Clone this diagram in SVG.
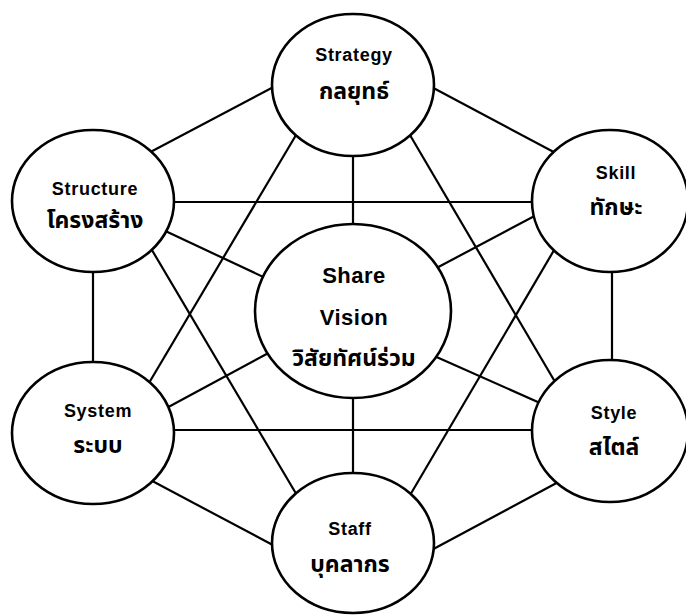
<svg xmlns="http://www.w3.org/2000/svg" width="686" height="615" viewBox="0 0 686 615">
<style>
.bg{fill:#fff}
.c line{stroke:#000;stroke-width:2.2;stroke-linecap:butt}
.n ellipse{fill:#fff;stroke:#000;stroke-width:2.6}
.en{font-family:"Liberation Sans",Arial,sans-serif;font-size:18px;font-weight:bold;text-anchor:middle;fill:#000;letter-spacing:0.7px}
.ens{font-family:"Liberation Sans",Arial,sans-serif;font-size:22px;font-weight:bold;text-anchor:middle;fill:#000;letter-spacing:0.5px}
.th{font-family:"Noto Sans Thai","Noto Sans Thai UI","Noto Sans","Liberation Sans",sans-serif;font-size:23px;font-weight:bold;text-anchor:middle;fill:#000}
</style>
<rect class="bg" x="0" y="0" width="686" height="615"/>
<g id="connectors" class="c">
<line x1="141" y1="157" x2="283" y2="82"/>
<line x1="424" y1="83" x2="565" y2="158"/>
<line x1="353" y1="150" x2="353" y2="232"/>
<line x1="353" y1="390" x2="353" y2="480"/>
<line x1="299" y1="130" x2="146" y2="388"/>
<line x1="407" y1="130" x2="561" y2="392"/>
<line x1="165" y1="202" x2="543" y2="202"/>
<line x1="93" y1="262" x2="93" y2="372"/>
<line x1="612" y1="262" x2="612" y2="370"/>
<line x1="159" y1="228" x2="274" y2="282"/>
<line x1="429" y1="272" x2="544" y2="211"/>
<line x1="276" y1="349" x2="161" y2="411"/>
<line x1="432" y1="355" x2="549" y2="407"/>
<line x1="165" y1="430" x2="543" y2="430"/>
<line x1="146" y1="240" x2="301" y2="502"/>
<line x1="560" y1="240" x2="406" y2="502"/>
<line x1="141" y1="475" x2="284" y2="551"/>
<line x1="564" y1="479" x2="426" y2="553"/>
</g>
<g id="strategy" class="n">
<ellipse cx="353" cy="85" rx="81" ry="71"/>
<text class="en" x="354" y="61">Strategy</text>
<text class="th" x="354" y="99">กลยุทธ์</text>
</g>
<g id="structure" class="n">
<ellipse cx="93" cy="201" rx="81" ry="71"/>
<text class="en" x="95" y="195">Structure</text>
<text class="th" x="95" y="228">โครงสร้าง</text>
</g>
<g id="skill" class="n">
<ellipse cx="610" cy="201" rx="78" ry="71"/>
<text class="en" x="616" y="179">Skill</text>
<text class="th" x="616" y="215">ทักษะ</text>
</g>
<g id="share-vision" class="n">
<ellipse cx="353" cy="311" rx="98" ry="87"/>
<text class="ens" x="354" y="283">Share</text>
<text class="ens" x="354" y="325">Vision</text>
<text class="th" x="354" y="366">วิสัยทัศน์ร่วม</text>
</g>
<g id="system" class="n">
<ellipse cx="93" cy="433" rx="81" ry="71"/>
<text class="en" x="98" y="417">System</text>
<text class="th" x="98" y="453">ระบบ</text>
</g>
<g id="style" class="n">
<ellipse cx="610" cy="431" rx="78" ry="71"/>
<text class="en" x="614" y="419">Style</text>
<text class="th" x="614" y="455">สไตล์</text>
</g>
<g id="staff" class="n">
<ellipse cx="353" cy="543" rx="81" ry="70"/>
<text class="en" x="350" y="535">Staff</text>
<text class="th" x="350" y="572">บุคลากร</text>
</g>
</svg>
